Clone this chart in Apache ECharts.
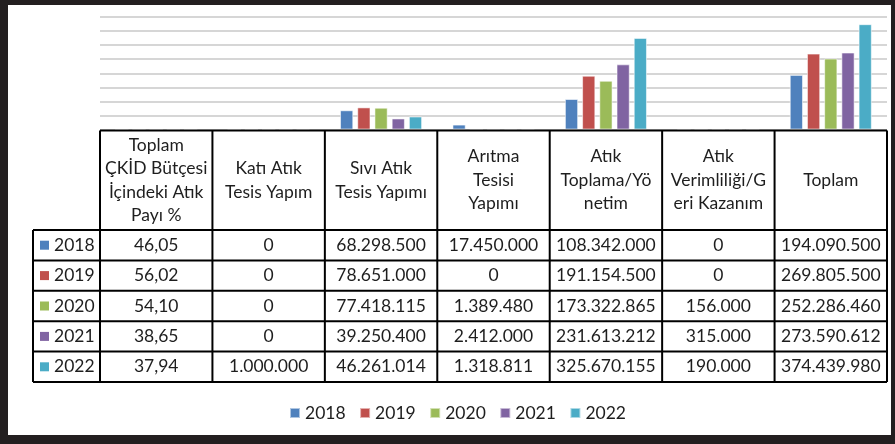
<!DOCTYPE html>
<html>
<head>
<meta charset="utf-8">
<script src="https://cdn.jsdelivr.net/npm/echarts@6/dist/echarts.min.js"></script>
<style>
  html, body { margin: 0; padding: 0; background: #fff; }
  #chart { width: 895px; height: 444px; }
</style>
</head>
<body>
<div id="chart"></div>
<script>
// Budget categories (column headers of the data table)
const categories = [
  'Toplam\nÇKİD Bütçesi\nİçindeki Atık\nPayı %',
  'Katı Atık\nTesis Yapım',
  'Sıvı Atık\nTesis Yapımı',
  'Arıtma\nTesisi\nYapımı',
  'Atık\nToplama/Yö\nnetim',
  'Atık\nVerimliliği/G\neri Kazanım',
  'Toplam'
];
const years = ['2018', '2019', '2020', '2021', '2022'];
const colors = ['#4F81BD', '#C0504D', '#9BBB59', '#8064A2', '#4BACC6'];

// Values per year, one entry per category (first entry is a percentage)
const v2018 = [46.05, 0, 68298500, 17450000, 108342000, 0, 194090500];
const v2019 = [56.02, 0, 78651000, 0, 191154500, 0, 269805500];
const v2020 = [54.10, 0, 77418115, 1389480, 173322865, 156000, 252286460];
const v2021 = [38.65, 0, 39250400, 2412000, 231613212, 315000, 273590612];
const v2022 = [37.94, 1000000, 46261014, 1318811, 325670155, 190000, 374439980];
const seriesValues = [v2018, v2019, v2020, v2021, v2022];

// Value axis ticks (hidden labels, gridlines only)
const yMax = 400000000;
const yStep = 50000000;

const FONT = 'Lato, "Open Sans", sans-serif';
const FS = 17.5;
const TEXT = '#1e1e1e';

function fmtInt(v) {
  return String(Math.round(v)).replace(/\B(?=(\d{3})+(?!\d))/g, '.');
}
function fmtPct(v) {
  return v.toFixed(2).replace('.', ',');
}
function fmtCell(col, v) {
  return col === 0 ? fmtPct(v) : fmtInt(v);
}

const chart = echarts.init(document.getElementById('chart'), null, { renderer: 'canvas' });

chart.setOption({
  animation: false,
  backgroundColor: '#ffffff',
  grid: { left: 100, right: 8, top: 17, height: 112.5, containLabel: false },
  xAxis: {
    type: 'category',
    data: categories,
    axisLine: { show: false },
    axisTick: { show: false },
    axisLabel: { show: false }
  },
  yAxis: {
    type: 'value',
    min: 0,
    max: yMax,
    interval: yStep,
    axisLine: { show: false },
    axisTick: { show: false },
    axisLabel: { show: false },
    splitLine: { lineStyle: { color: '#d6d6d6', width: 2 } }
  },
  legend: {
    left: 289,
    top: 404,
    padding: 0,
    icon: 'rect',
    itemWidth: 10,
    itemHeight: 10,
    itemGap: 13.5,
    textStyle: { fontFamily: FONT, fontSize: FS, color: TEXT },
    data: years
  },
  series: years.map((y, i) => ({
    name: y,
    type: 'bar',
    data: seriesValues[i],
    barGap: '30%',
    barCategoryGap: '27%',
    itemStyle: { color: colors[i], borderColor: 'rgba(255,255,255,0.55)', borderWidth: 1 }
  }))
});

// Data table under the plot, aligned to the category bands
const centers = categories.map((c, i) => chart.convertToPixel({ xAxisIndex: 0 }, i));
const band = centers[1] - centers[0];
const colEdges = centers.map(c => c - band / 2).concat([centers[centers.length - 1] + band / 2]);
const tableTop = Math.round(chart.convertToPixel({ yAxisIndex: 0 }, 0)) + 0.5;
const headerBottom = 230;
const rowH = 30.4;
const rowHeadLeft = 33;
const tableLeft = colEdges[0];
const tableRight = colEdges[colEdges.length - 1];
const tableBottom = headerBottom + rowH * years.length;

const g = [];
const lineStyle = { stroke: '#000', lineWidth: 2 };
function hline(x1, x2, y) { g.push({ type: 'line', z: 10, shape: { x1, y1: y, x2, y2: y }, style: lineStyle }); }
function vline(x, y1, y2) { g.push({ type: 'line', z: 10, shape: { x1: x, y1, x2: x, y2 }, style: lineStyle }); }

// Horizontal rules
hline(tableLeft, tableRight, tableTop);
hline(rowHeadLeft, tableRight, headerBottom);
for (let r = 1; r <= years.length; r++) hline(rowHeadLeft, tableRight, headerBottom + rowH * r);
// Vertical rules
colEdges.forEach(x => vline(x, tableTop, tableBottom));
vline(rowHeadLeft, headerBottom, tableBottom);

// Column headers
categories.forEach((c, i) => {
  g.push({
    type: 'text', z: 11,
    style: {
      text: c, x: centers[i], y: (tableTop + headerBottom) / 2,
      align: 'center', verticalAlign: 'middle',
      fontFamily: FONT, fontSize: FS, lineHeight: 23.5, fill: TEXT
    }
  });
});

// Row headers with legend keys, and cell values
years.forEach((y, r) => {
  const cy = headerBottom + rowH * r + rowH / 2;
  g.push({ type: 'rect', z: 11, shape: { x: 40, y: cy - 4.5, width: 9, height: 9 }, style: { fill: colors[r] } });
  g.push({
    type: 'text', z: 11,
    style: { text: y, x: 54, y: cy, align: 'left', verticalAlign: 'middle', fontFamily: FONT, fontSize: FS, fill: TEXT }
  });
  seriesValues[r].forEach((v, c) => {
    g.push({
      type: 'text', z: 11,
      style: {
        text: fmtCell(c, v), x: centers[c], y: cy,
        align: 'center', verticalAlign: 'middle',
        fontFamily: FONT, fontSize: FS, fill: TEXT
      }
    });
  });
});

// Dark outer frame
const frame = '#231f20';
g.push({ type: 'rect', z: 20, shape: { x: 0, y: 0, width: 895, height: 5 }, style: { fill: frame } });
g.push({ type: 'rect', z: 20, shape: { x: 0, y: 0, width: 8, height: 444 }, style: { fill: frame } });
g.push({ type: 'rect', z: 20, shape: { x: 891, y: 0, width: 4, height: 444 }, style: { fill: frame } });
g.push({ type: 'rect', z: 20, shape: { x: 0, y: 435, width: 895, height: 9 }, style: { fill: frame } });

chart.setOption({ graphic: { elements: g } });
</script>
</body>
</html>
